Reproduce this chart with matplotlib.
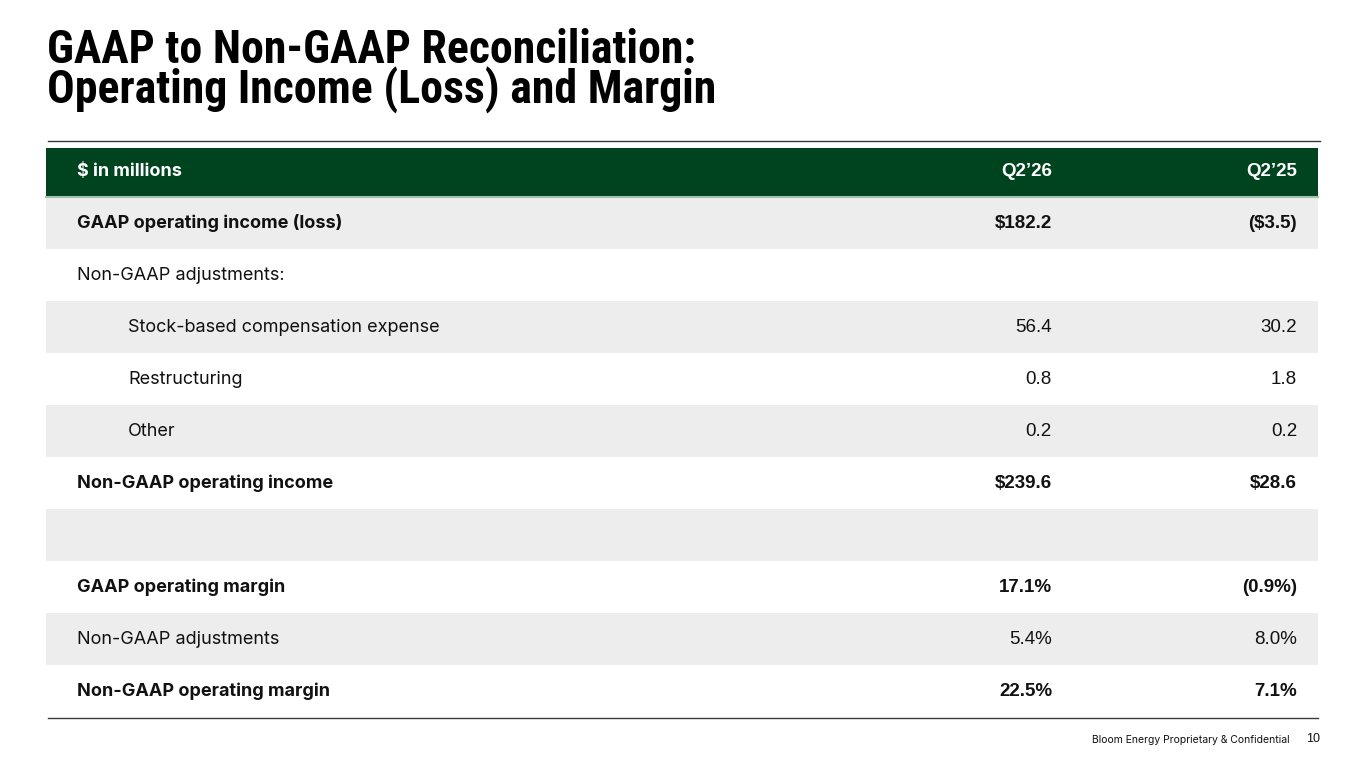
import matplotlib
matplotlib.use("Agg")
import matplotlib.pyplot as plt
from matplotlib.patches import Rectangle
from matplotlib import font_manager

title_lines = ["GAAP to Non-GAAP Reconciliation:", "Operating Income (Loss) and Margin"]
header = ["$ in millions", "Q2\u201926", "Q2\u201925"]
labels = ["GAAP operating income (loss)", "Non-GAAP adjustments:",
          "Stock-based compensation expense", "Restructuring", "Other",
          "Non-GAAP operating income", "",
          "GAAP operating margin", "Non-GAAP adjustments", "Non-GAAP operating margin"]
q2_26 = ["$182.2", "", "56.4", "0.8", "0.2", "$239.6", "", "17.1%", "5.4%", "22.5%"]
q2_25 = ["($3.5)", "", "30.2", "1.8", "0.2", "$28.6", "", "(0.9%)", "8.0%", "7.1%"]
bold = [True, False, False, False, False, True, False, True, False, True]
indent = [False, False, True, True, True, False, False, False, False, False]
footer = "Bloom Energy Proprietary & Confidential"
page = "10"

W, H = 1365, 768
fig = plt.figure(figsize=(W / 100, H / 100), dpi=100)
ax = fig.add_axes([0, 0, 1, 1])
ax.set_xlim(0, W)
ax.set_ylim(H, 0)
ax.axis("off")

label_font = ["Inter", "Roboto", "DejaVu Sans"]
num_font = ["Liberation Sans", "DejaVu Sans"]

# Pick a condensed family for the title if one is installed
names = {f.name for f in font_manager.fontManager.ttflist}
condensed = [n for n in ["Roboto Condensed", "Liberation Sans Narrow",
                         "Open Sans Condensed", "DejaVu Sans Condensed"] if n in names]
if condensed:
    title_font, title_size = [condensed[0], "Roboto"], 33
else:
    title_font, title_size = ["Roboto", "DejaVu Sans"], 29.5

ax.text(47, 103, "\n".join(title_lines), fontsize=title_size, fontweight="bold",
        family=title_font, va="baseline", ha="left", color="#000000",
        linespacing=0.85)

# Top rule
ax.plot([48, 1320], [140.5, 140.5], color="#3a3a3a", lw=1.0)

# Header band
x0, x1 = 46, 1318
ax.add_patch(Rectangle((x0, 148), x1 - x0, 48, color="#00441f", lw=0))
ax.plot([x0, x1], [196.5, 196.5], color="#9ec4a8", lw=1.5)
col1_x, col2_x, lab_x, ind_x = 1052, 1297, 77, 128
hy = 172
ax.text(lab_x, hy, header[0], fontsize=13, fontweight="bold", family=label_font,
        color="white", va="center", ha="left")
ax.text(col1_x, hy, header[1], fontsize=13.5, fontweight="bold", family=num_font,
        color="white", va="center", ha="right")
ax.text(col2_x, hy, header[2], fontsize=13.5, fontweight="bold", family=num_font,
        color="white", va="center", ha="right")

row_h = 52
top = 197
for i, lab in enumerate(labels):
    y = top + i * row_h
    if i % 2 == 0:
        ax.add_patch(Rectangle((x0, y), x1 - x0, row_h, color="#ededed", lw=0))
    cy = y + row_h / 2
    w = "bold" if bold[i] else "normal"
    ax.text(ind_x if indent[i] else lab_x, cy, lab, fontsize=13, fontweight=w,
            family=label_font, color="#111111", va="center", ha="left")
    ax.text(col1_x, cy, q2_26[i], fontsize=13.5, fontweight=w,
            family=num_font, color="#111111", va="center", ha="right")
    ax.text(col2_x, cy, q2_25[i], fontsize=13.5, fontweight=w,
            family=num_font, color="#111111", va="center", ha="right")

# Bottom rule
ax.plot([48, 1318], [718, 718], color="#3a3a3a", lw=1.0)

# Footer
ax.text(1290, 740, footer, fontsize=7.5, family=label_font, color="#111111",
        va="center", ha="right")
ax.text(1320, 739, page, fontsize=9, family=num_font, color="#111111",
        va="center", ha="right")

fig.savefig("out.png", dpi=100)
